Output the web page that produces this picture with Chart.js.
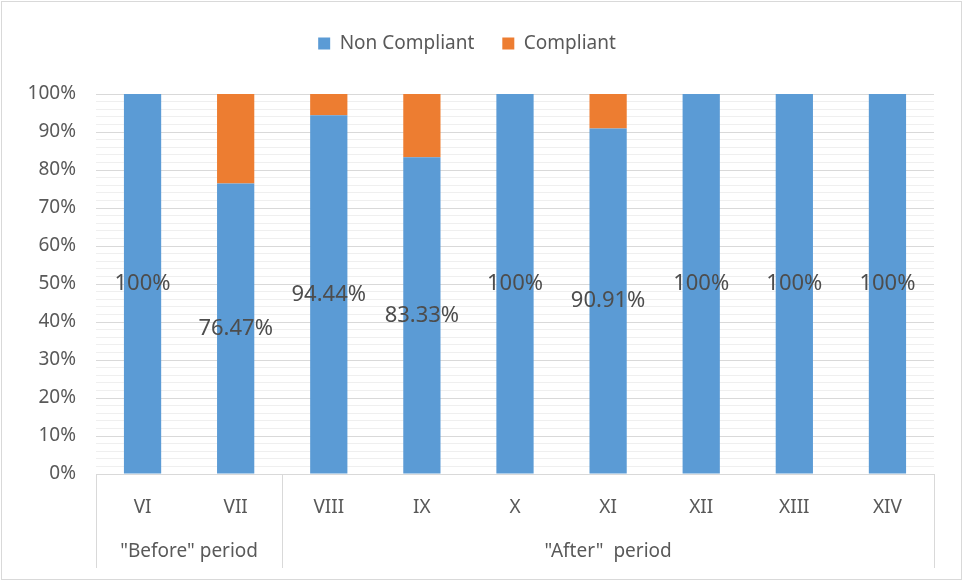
<!DOCTYPE html>
<html>
<head>
<meta charset="utf-8">
<script src="https://cdn.jsdelivr.net/npm/chart.js@4.4.0/dist/chart.umd.min.js"></script>
<style>
  html, body { margin: 0; padding: 0; background: #fff; }
  #wrap { width: 963px; height: 581px; }
</style>
</head>
<body>
<div id="wrap"><canvas id="chart" width="963" height="581"></canvas></div>
<script>
// categories (bottom level) and the two period groups
const categories = ["VI", "VII", "VIII", "IX", "X", "XI", "XII", "XIII", "XIV"];
const groupNames = ['"Before" period', '"After"  period'];
const groupSizes = [2, 7];

// series values, in %
const nonCompliant = [100, 76.47, 94.44, 83.33, 100, 90.91, 100, 100, 100];
const compliant = [0, 23.53, 5.56, 16.67, 0, 9.09, 0, 0, 0];

const textColor = "#595959";
const fontFamily = "'Noto Sans', 'Open Sans', sans-serif";

// labels in the middle of the blue segments
const valueLabels = {
  id: "valueLabels",
  afterDatasetsDraw(chart) {
    const ctx = chart.ctx;
    const meta = chart.getDatasetMeta(0);
    ctx.save();
    ctx.font = "22px " + fontFamily;
    ctx.fillStyle = "#4d4d4d";
    ctx.textAlign = "center";
    ctx.textBaseline = "middle";
    meta.data.forEach((bar, i) => {
      const v = nonCompliant[i];
      const txt = (Number.isInteger(v) ? v : v.toFixed(2)) + "%";
      ctx.fillText(txt, bar.x, (bar.y + bar.base) / 2);
    });
    ctx.restore();
  }
};

// extra room under the legend
const legendGap = {
  id: "legendGap",
  beforeInit(chart) {
    const fit = chart.legend.fit;
    chart.legend.fit = function () {
      fit.bind(chart.legend)();
      this.height += 31;
    };
  }
};

// second level of the x axis + outer frame
const groupAxis = {
  id: "groupAxis",
  afterDraw(chart) {
    const ctx = chart.ctx;
    const x = chart.scales.x;
    const area = chart.chartArea;
    const step = (area.right - area.left) / categories.length;
    ctx.save();
    ctx.strokeStyle = "#d9d9d9";
    ctx.lineWidth = 1;
    let start = 0;
    const edges = [area.left];
    groupSizes.forEach((n, g) => {
      const left = x.getPixelForValue(start) - step / 2;
      const right = x.getPixelForValue(start + n - 1) + step / 2;
      edges.push(right);
      ctx.font = "19px " + fontFamily;
      ctx.fillStyle = textColor;
      ctx.textAlign = "center";
      ctx.textBaseline = "middle";
      ctx.fillText(groupNames[g], (left + right) / 2, area.bottom + 78);
      start += n;
    });
    edges.forEach(e => {
      const px = Math.round(e) + 0.5;
      ctx.beginPath();
      ctx.moveTo(px, area.bottom);
      ctx.lineTo(px, area.bottom + 94);
      ctx.stroke();
    });
    // chart frame
    ctx.strokeStyle = "#d9d9d9";
    ctx.strokeRect(1.5, 1.5, chart.width - 3, chart.height - 3);
    ctx.restore();
  }
};

new Chart(document.getElementById("chart"), {
  type: "bar",
  data: {
    labels: categories,
    datasets: [
      {
        label: "Non Compliant",
        data: nonCompliant,
        backgroundColor: "#5B9BD5",
        barPercentage: 0.4,
        categoryPercentage: 1
      },
      {
        label: "Compliant",
        data: compliant,
        backgroundColor: "#ED7D31",
        barPercentage: 0.4,
        categoryPercentage: 1
      }
    ]
  },
  options: {
    responsive: false,
    animation: false,
    layout: { padding: { top: 6, right: 29, bottom: 11, left: 0 } },
    plugins: {
      legend: {
        position: "top",
        labels: {
          boxWidth: 12,
          boxHeight: 12,
          padding: 28,
          color: textColor,
          font: { size: 19, family: fontFamily }
        }
      },
      tooltip: { enabled: false }
    },
    scales: {
      x: {
        stacked: true,
        grid: { display: false },
        border: { display: true, color: "#d9d9d9" },
        ticks: { color: textColor, padding: 14, font: { size: 19, family: fontFamily } },
        afterFit(scale) { scale.height = 96; }
      },
      y: {
        stacked: true,
        min: 0,
        max: 100,
        border: { display: false },
        grid: {
          drawTicks: false,
          color: c => (c.tick && c.tick.value % 10 === 0) ? "#d9d9d9" : "#efefef"
        },
        ticks: {
          stepSize: 2,
          autoSkip: false,
          padding: 20,
          color: textColor,
          font: { size: 19, family: fontFamily },
          callback: v => (v % 10 === 0 ? v + "%" : "")
        },
        afterFit(scale) { scale.width = 96; }
      }
    }
  },
  plugins: [valueLabels, legendGap, groupAxis]
});
</script>
</body>
</html>
